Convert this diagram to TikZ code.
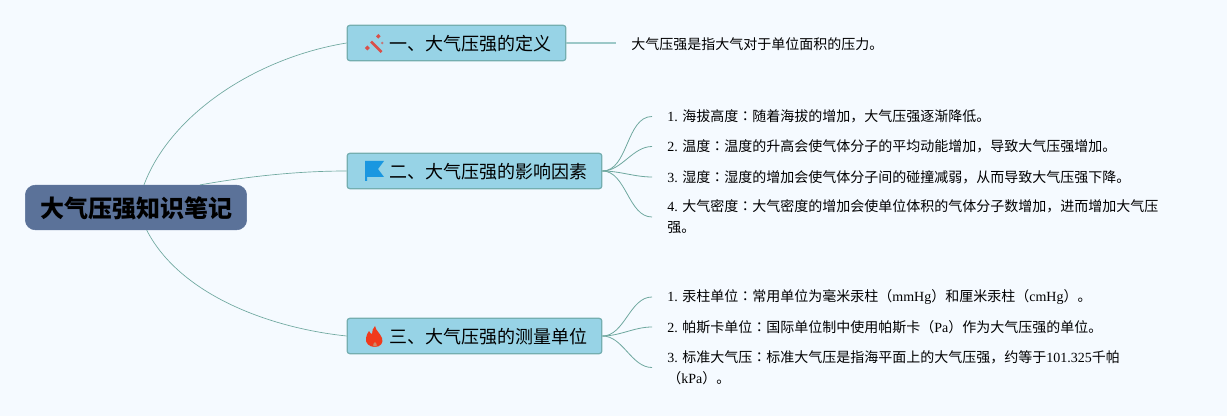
\documentclass[tikz,border=0pt]{standalone}
\usepackage{fontspec}
\setmainfont{Liberation Serif}
\newfontfamily\cjk{Noto Sans CJK SC}
\newfontfamily\cjktc{Noto Sans CJK TC}
\newcommand{\lat}[1]{{\rmfamily #1}}
\newcommand{\cn}{{\cjktc ：}}
\definecolor{bgcol}{HTML}{F5FAFF}
\definecolor{rootcol}{HTML}{5B7299}
\definecolor{boxcol}{HTML}{97D3E6}
\definecolor{boxline}{HTML}{74AEB0}
\definecolor{linkcol}{HTML}{6FA89F}
\definecolor{stubcol}{HTML}{9CC8C8}
\definecolor{wandcol}{HTML}{D9504A}
\definecolor{flagcol}{HTML}{1A97E0}
\definecolor{firecol}{HTML}{F03A1C}
\tikzset{
	rootbox/.style={fill=rootcol,draw=rootcol,rounded corners=7.5pt,minimum width=166pt,minimum height=33.5pt,inner sep=0pt,text height=16.5pt,text depth=1pt,font=\cjk\bfseries\fontsize{18}{22}\selectfont},
	mainbox/.style={fill=boxcol,draw=boxline,line width=.9pt,rounded corners=2pt,minimum height=26.5pt,inner sep=0pt,text height=11.5pt,text depth=.5pt,font=\cjk\fontsize{13.5}{16}\selectfont},
	notetext/.style={anchor=west,inner xsep=11.25pt,inner ysep=0pt,align=left,font=\cjk\fontsize{10.5}{15.75}\selectfont},
	rootlink/.style={draw=linkcol,line width=.5pt},
	sublink/.style={draw=linkcol,line width=.6pt},
}
\begin{document}
\begin{tikzpicture}[x=.75pt,y=-.75pt]
	\fill[bgcol] (0,0) rectangle (1227,416);
	\useasboundingbox (0,0) rectangle (1227,416);
	\def\gap{\hspace*{20.25pt}}
	\node[rootbox] (root) at (136,207.5) {大气压强知识笔记};
	\node[mainbox,minimum width=164pt] (def) at (456.5,43) {\gap 一、大气压强的定义};
	\node[mainbox,minimum width=191pt] (factor) at (474.5,171) {\gap 二、大气压强的影响因素};
	\node[mainbox,minimum width=191pt] (unit) at (474.5,336) {\gap 三、大气压强的测量单位};
	% notes
	\node[notetext,inner xsep=0pt] (d1) at (631,44.5) {大气压强是指大气对于单位面积的压力。};
	\coordinate (d1end) at (616,43);
	\node[notetext] (f1) at (652,116.5) {\lat{1. }海拔高度\cn 随着海拔的增加，大气压强逐渐降低。};
	\node[notetext] (f2) at (652,146.5) {\lat{2. }温度\cn 温度的升高会使气体分子的平均动能增加，导致大气压强增加。};
	\node[notetext] (f3) at (652,177) {\lat{3. }湿度\cn 湿度的增加会使气体分子间的碰撞减弱，从而导致大气压强下降。};
	\node[notetext] (f4) at (652,217) {\lat{4. }大气密度\cn 大气密度的增加会使单位体积的气体分子数增加，进而增加大气压\\强。};
	\node[notetext] (u1) at (652,297) {\lat{1. }汞柱单位\cn 常用单位为毫米汞柱（\lat{mmHg}）和厘米汞柱（\lat{cmHg}）。};
	\node[notetext] (u2) at (652,327) {\lat{2. }帕斯卡单位\cn 国际单位制中使用帕斯卡（\lat{Pa}）作为大气压强的单位。};
	\node[notetext] (u3) at (652,367.5) {\lat{3. }标准大气压\cn 标准大气压是指海平面上的大气压强，约等于\lat{101.325}千帕\\（\lat{kPa}）。};
	% root links
	\draw[rootlink] ([xshift=6pt]root.north) .. controls (170,115) and (255,58) .. (def.west);
	\draw[rootlink] ([xshift=48pt]root.north) .. controls (250,176) and (300,171) .. (factor.west);
	\draw[rootlink] ([xshift=8pt]root.south) .. controls (180,295) and (270,328) .. (unit.west);
	% note links
	\draw[stubcol,line width=1pt] (def.east) -- (d1end);
	\foreach \n in {f1,f2,f3,f4}
		\draw[sublink] (factor.east) to[out=0,in=180,looseness=.9] (\n.west);
	\foreach \n in {u1,u2,u3}
		\draw[sublink] (unit.east) to[out=0,in=180,looseness=.9] (\n.west);
	% icons
	\draw[wandcol,line width=1.9pt] (371,41.5) -- (381.5,52);
	\fill[wandcol] (367.3,45.5) -- (369.8,48) -- (367.3,50.5) -- (364.8,48) -- cycle;
	\fill[wandcol] (378.3,34) -- (380.6,36.3) -- (378.3,38.6) -- (376,36.3) -- cycle;
	\fill[wandcol!70!boxcol] (382.3,43) circle (1pt);
	\fill[flagcol] (365,161) -- (384,161) -- (378,169) -- (384,177) -- (367,177) -- (367,181) -- (365,181) -- cycle;
	\fill[firecol] (375,326) .. controls (376,331) and (380,333) .. (382,338) .. controls (384,343) and (380,347) .. (375,347) .. controls (369,347) and (365,343) .. (366,338) .. controls (366,335) and (368,333) .. (369,331) .. controls (370,333) and (371,334) .. (372,334) .. controls (372,331) and (373,328) .. (375,326) -- cycle;
	\fill[orange!40!firecol!60!boxcol] (375,342) .. controls (376,343) and (377,344) .. (376.8,345.5) .. controls (376.5,347) and (373.5,347) .. (373.2,345.5) .. controls (373,344) and (374,343) .. (375,342) -- cycle;
\end{tikzpicture}
\end{document}
